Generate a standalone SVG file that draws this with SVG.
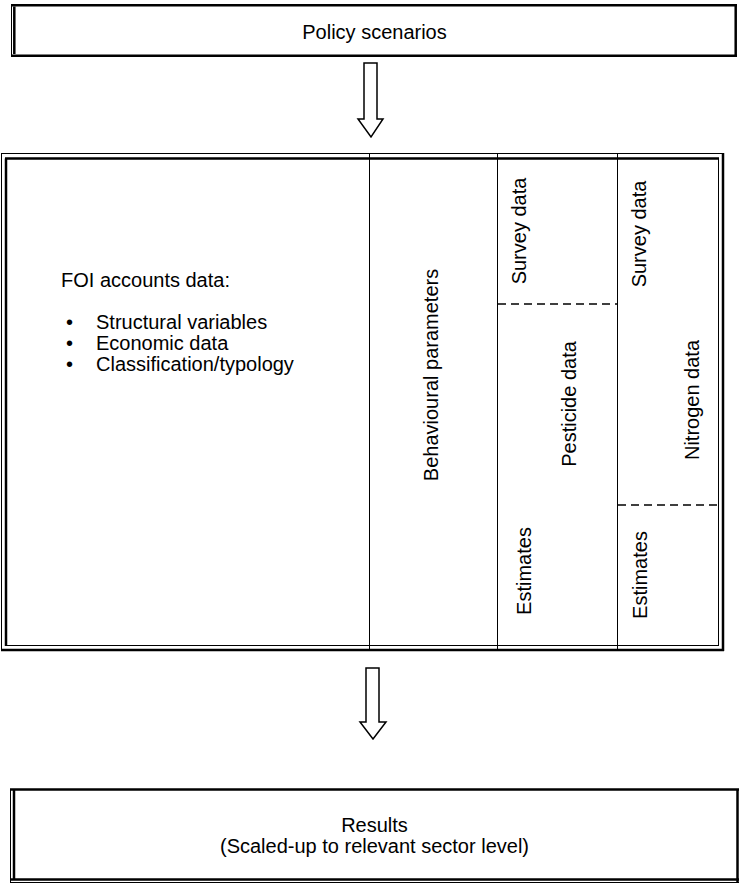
<svg xmlns="http://www.w3.org/2000/svg" width="739" height="884" viewBox="0 0 739 884">
<style>
.t{font-family:"Liberation Sans",Arial,sans-serif;font-size:20px;fill:#000}
.m{text-anchor:middle}
.thin{stroke:#000;stroke-width:1;fill:none}
.thick{stroke:#000;stroke-width:2.5;fill:none}
.dash{stroke:#000;stroke-width:1.5;stroke-dasharray:8,5;fill:none}
.arrow{fill:#fff;stroke:#000;stroke-width:1.5;stroke-linejoin:miter}
</style>
<rect width="739" height="884" fill="#fff"/>
<g id="policy">
<line class="thin" x1="11.5" y1="4" x2="11.5" y2="57"/>
<line class="thick" x1="11" y1="5.2" x2="737" y2="5.2"/>
<line class="thick" x1="14.3" y1="6.5" x2="14.3" y2="54"/>
<line class="thick" x1="735.7" y1="4" x2="735.7" y2="57"/>
<line class="thick" x1="11" y1="55.7" x2="737" y2="55.7"/>
<text class="t m" x="374.5" y="39">Policy scenarios</text>
</g>
<g id="model">
<line class="thin" x1="1.5" y1="153.5" x2="1.5" y2="651"/>
<line class="thin" x1="1" y1="153.5" x2="724" y2="153.5"/>
<line class="thick" x1="6" y1="158.5" x2="6" y2="646"/>
<line class="thick" x1="5" y1="158.5" x2="719" y2="158.5"/>
<line class="thin" x1="718.5" y1="158" x2="718.5" y2="646"/>
<line class="thin" x1="5" y1="645.5" x2="719" y2="645.5"/>
<line class="thick" x1="723" y1="153" x2="723" y2="651"/>
<line class="thick" x1="1" y1="650" x2="724" y2="650"/>
<line class="thin" x1="369.5" y1="153" x2="369.5" y2="650"/>
<line class="thin" x1="497.5" y1="153" x2="497.5" y2="650"/>
<line class="thin" x1="617.5" y1="153" x2="617.5" y2="650"/>
<line class="dash" x1="498" y1="304" x2="617" y2="304"/>
<line class="dash" x1="618" y1="505" x2="718" y2="505"/>
</g>
<g id="foi">
<text class="t" x="61" y="287">FOI accounts data:</text>
<text class="t" x="66" y="329">•</text>
<text class="t" x="96" y="329">Structural variables</text>
<text class="t" x="66" y="350">•</text>
<text class="t" x="96" y="350">Economic data</text>
<text class="t" x="66" y="371">•</text>
<text class="t" x="96" y="371">Classification/typology</text>
</g>
<g id="behavioural">
<text class="t m" transform="translate(438,375) rotate(-90)">Behavioural parameters</text>
</g>
<g id="pesticide">
<text class="t m" transform="translate(526,231) rotate(-90)">Survey data</text>
<text class="t m" transform="translate(576,404) rotate(-90)">Pesticide data</text>
<text class="t m" transform="translate(531,571) rotate(-90)">Estimates</text>
</g>
<g id="nitrogen">
<text class="t m" transform="translate(646,234) rotate(-90)">Survey data</text>
<text class="t m" transform="translate(699,400) rotate(-90)">Nitrogen data</text>
<text class="t m" transform="translate(647,575) rotate(-90)">Estimates</text>
</g>
<g id="results">
<line class="thin" x1="10.5" y1="789" x2="10.5" y2="883"/>
<line class="thick" x1="10" y1="789.5" x2="739" y2="789.5"/>
<line class="thick" x1="14" y1="790" x2="14" y2="880"/>
<line class="thick" x1="737.5" y1="789" x2="737.5" y2="883"/>
<line class="thick" x1="10" y1="879.5" x2="739" y2="879.5"/>
<line class="thin" x1="10" y1="882.5" x2="739" y2="882.5"/>
<text class="t m" x="374.5" y="832">Results</text>
<text class="t m" x="374.5" y="853">(Scaled-up to relevant sector level)</text>
</g>
<g id="connectors">
<polygon class="arrow" points="364,63 377,63 377,119 383,119 371,137 358,119 364,119"/>
<polygon class="arrow" points="366,668 379,668 379,722 386,722 373,739 360,722 366,722"/>
</g>
</svg>
